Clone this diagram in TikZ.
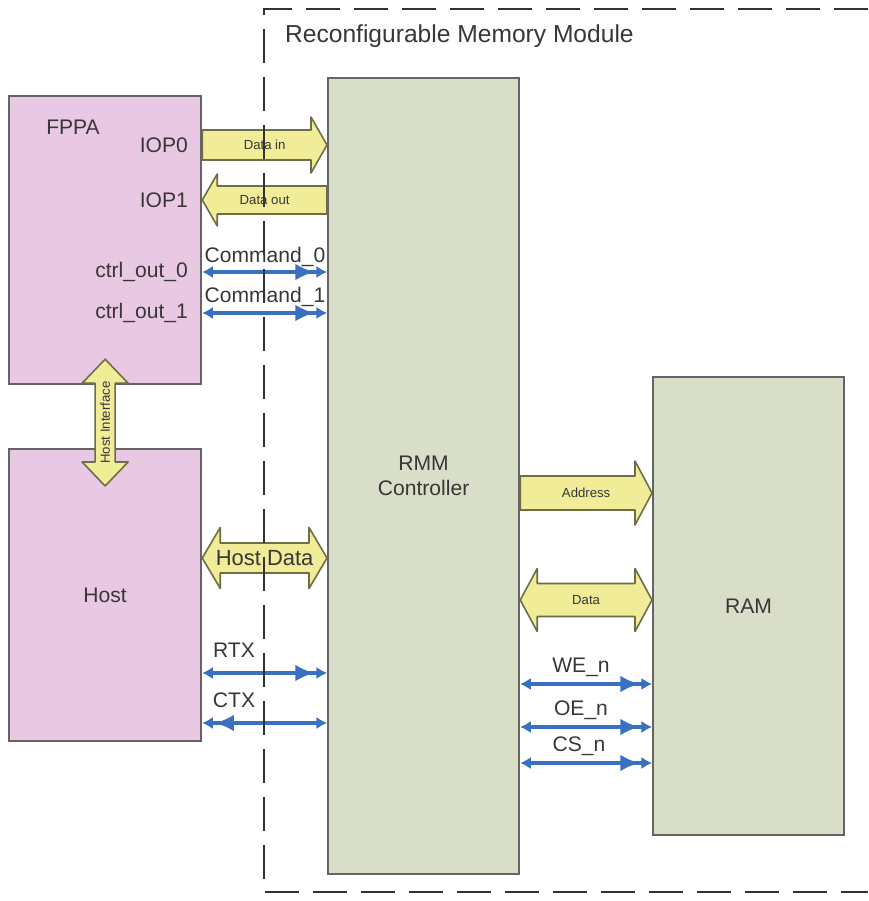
\documentclass[tikz,border=0pt]{standalone}
\usepackage{fontspec}
\setmainfont{Liberation Sans}
\usetikzlibrary{arrows.meta,calc}

\definecolor{fppapink}{RGB}{232,200,226}
\definecolor{ctrlgreen}{RGB}{217,222,200}
\definecolor{busyellow}{RGB}{240,236,152}
\definecolor{busedge}{RGB}{110,110,70}
\definecolor{sigblue}{RGB}{58,112,192}
\definecolor{boxedge}{RGB}{100,100,100}
\definecolor{textgray}{RGB}{55,55,55}

% one-way fat bus: from #1 to #2, body half width #3, head half width #4, head length #5
\newcommand{\busone}[5]{%
  \draw[bus] let \p1=(#1), \p2=(#2), \p3=($(#2)!#5!(#1)$) in
    (\x1,\y1+#3) -- (\x3,\y1+#3) -- (\x3,\y1+#4) -- (\x2,\y2)
    -- (\x3,\y1-#4) -- (\x3,\y1-#3) -- (\x1,\y1-#3) -- cycle;}
% two-way fat bus, horizontal
\newcommand{\bustwo}[5]{%
  \draw[bus] let \p1=(#1), \p2=(#2), \p3=($(#2)!#5!(#1)$), \p4=($(#1)!#5!(#2)$) in
    (\x1,\y1) -- (\x4,\y1+#4) -- (\x4,\y1+#3) -- (\x3,\y1+#3) -- (\x3,\y1+#4) -- (\x2,\y2)
    -- (\x3,\y1-#4) -- (\x3,\y1-#3) -- (\x4,\y1-#3) -- (\x4,\y1-#4) -- cycle;}
% two-way fat bus, vertical
\newcommand{\busvert}[5]{%
  \draw[bus] let \p1=(#1), \p2=(#2), \p3=($(#2)!#5!(#1)$), \p4=($(#1)!#5!(#2)$) in
    (\x1,\y1) -- (\x1+#4,\y4) -- (\x1+#3,\y4) -- (\x1+#3,\y3) -- (\x1+#4,\y3) -- (\x2,\y2)
    -- (\x1-#4,\y3) -- (\x1-#3,\y3) -- (\x1-#3,\y4) -- (\x1-#4,\y4) -- cycle;}

\begin{document}
\begin{tikzpicture}
[
    x=0.02cm, y=-0.02cm,
    box/.style={draw=boxedge, line width=1.3pt, text=textgray, align=center,
        font=\fontsize{12}{14}\selectfont},
    lbl/.style={text=textgray, inner sep=1pt, font=\fontsize{12}{14}\selectfont},
    bus/.style={draw=busedge, fill=busyellow, line width=0.9pt, line join=round},
    buslbl/.style={text=textgray, inner sep=0pt, font=\fontsize{7.5}{9}\selectfont},
    sig/.style={draw=sigblue, line width=2.1pt,
        {Latex[length=6pt,width=7pt]}-{Latex[length=11pt,width=9.5pt,sep=1pt] Latex[length=6pt,width=7pt]}},
    module/.style={draw=black!80, line width=1.4pt, dash pattern=on 0.68cm off 0.28cm}
]
    \useasboundingbox (0,0) rectangle (868,901);

    % blocks
    \node [box, fill=fppapink, minimum width=3.84cm, minimum height=5.76cm, anchor=north west] (fppa) at (8,95) {};
    \node [box, fill=fppapink, minimum width=3.84cm, minimum height=5.84cm, anchor=north west] (host) at (8,448) {Host};
    \node [box, fill=ctrlgreen, minimum width=3.82cm, minimum height=15.92cm, anchor=north west] (rmm) at (327,77) {RMM\\Controller};
    \node [box, fill=ctrlgreen, minimum width=3.82cm, minimum height=9.16cm, anchor=north west] (ram) at (652,376) {RAM};

    % labels
    \node [lbl, anchor=west, font=\fontsize{14}{16}\selectfont] (title) at (283,36) {Reconfigurable Memory Module};
    \node [lbl] (fppalbl) at (73,127) {FPPA};
    \node [lbl, anchor=east] (iop0) at (190,145) {IOP0};
    \node [lbl, anchor=east] (iop1) at (190,200) {IOP1};
    \node [lbl, anchor=east] (ctrl0) at (190,272) {ctrl\_out\_0};
    \node [lbl, anchor=east] (ctrl1) at (190,313) {ctrl\_out\_1};
    \node [lbl] (cmd0) at (265,257) {Command\_0};
    \node [lbl] (cmd1) at (265,297) {Command\_1};
    \node [lbl] (rtxlbl) at (234,650) {RTX};
    \node [lbl] (ctxlbl) at (234,700) {CTX};
    \node [lbl] (welbl) at (581,667) {WE\_n};
    \node [lbl] (oelbl) at (581,710) {OE\_n};
    \node [lbl] (cslbl) at (579,746) {CS\_n};

    % signal heights
    \coordinate (hdata) at (0,558);
    \coordinate (rtx) at (0,673);
    \coordinate (ctx) at (0,723);
    \coordinate (addr) at (0,493);
    \coordinate (rdata) at (0,600);
    \coordinate (we) at (0,684);
    \coordinate (oe) at (0,727);
    \coordinate (cs) at (0,763);
    \coordinate (hitop) at ($(fppa.south)+(0,-26)$);
    \coordinate (hibot) at ($(host.north)+(0,38)$);

    % buses
    \busone{fppa.east |- iop0}{rmm.west |- iop0}{0.3cm}{0.56cm}{0.32cm}
    \busone{rmm.west |- iop1}{fppa.east |- iop1}{0.28cm}{0.52cm}{0.3cm}
    \bustwo{host.east |- hdata}{rmm.west |- hdata}{0.3cm}{0.61cm}{0.36cm}
    \busone{rmm.east |- addr}{ram.west |- addr}{0.34cm}{0.64cm}{0.34cm}
    \bustwo{rmm.east |- rdata}{ram.west |- rdata}{0.33cm}{0.63cm}{0.34cm}
    \busvert{hitop}{hibot}{0.2cm}{0.46cm}{0.48cm}

    \node [buslbl] (datainlbl) at ($(fppa.east |- iop0)!0.5!(rmm.west |- iop0)$) {Data in};
    \node [buslbl] (dataoutlbl) at ($(fppa.east |- iop1)!0.5!(rmm.west |- iop1)$) {Data out};
    \node [buslbl, font=\fontsize{12.5}{14}\selectfont] (hdatalbl) at ($(host.east |- hdata)!0.5!(rmm.west |- hdata)$) {Host Data};
    \node [buslbl] (addrlbl) at ($(rmm.east |- addr)!0.5!(ram.west |- addr)$) {Address};
    \node [buslbl] (rdatalbl) at ($(rmm.east |- rdata)!0.5!(ram.west |- rdata)$) {Data};
    \node [buslbl, rotate=90] (hilbl) at ($(hitop)!0.5!(hibot)$) {Host Interface};

    % control lines
    \draw [sig] (fppa.east |- ctrl0) -- (rmm.west |- ctrl0);
    \draw [sig] (fppa.east |- ctrl1) -- (rmm.west |- ctrl1);
    \draw [sig] (host.east |- rtx) -- (rmm.west |- rtx);
    \draw [sig] (rmm.west |- ctx) -- (host.east |- ctx);
    \foreach \s in {we,oe,cs}
        \draw [sig] (rmm.east |- \s) -- (ram.west |- \s);

    % module border
    \draw [module] (868,9) -- (264,9) -- (264,892) -- (868,892);
\end{tikzpicture}
\end{document}
